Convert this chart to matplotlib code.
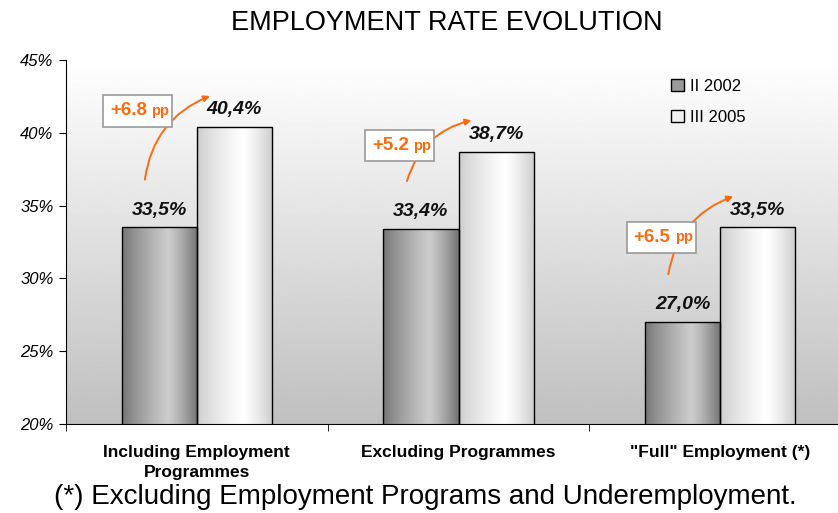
import numpy as np
import matplotlib
matplotlib.use("Agg")
import matplotlib.pyplot as plt
from matplotlib.patches import Patch, Rectangle

plt.rcParams["font.family"] = ["Liberation Sans", "DejaVu Sans"]

categories = ["Including Employment\nProgrammes", "Excluding Programmes", "\"Full\" Employment (*)"]
series_names = ["II 2002", "III 2005"]
rate_2002 = [33.5, 33.4, 27.0]
rate_2005 = [40.4, 38.7, 33.5]
gain_labels = ["+6.8", "+5.2", "+6.5"]
yticks = [20, 25, 30, 35, 40, 45]

ORANGE = "#ff6a0f"
W = 0.287

fig = plt.figure(figsize=(8.38, 5.13), dpi=100, facecolor="white")
ax = fig.add_axes([66 / 838, 89 / 513, 785 / 838, 364 / 513])
ax.set_xlim(-0.5, 2.5)
ax.set_ylim(20, 45)

# plot-area gradient: white at top to grey at bottom
bg = np.linspace(0.75, 1.0, 256).reshape(-1, 1)
ax.imshow(bg, extent=(-0.5, 2.5, 20, 45), origin="lower", cmap="gray",
          vmin=0, vmax=1, aspect="auto", zorder=0)


def shade(edge, peak, n=200):
    # horizontal cylinder-like shading, brightest a bit right of centre
    t = np.linspace(0, 1, n)
    p = 0.6
    v = np.where(t < p, edge + (peak - edge) * (t / p) ** 0.8,
                 peak - (peak - edge) * ((t - p) / (1 - p)) ** 1.3)
    return v.reshape(1, -1)


x = np.arange(len(categories))
bars_a = ax.bar(x - W / 2, rate_2002, W, bottom=0, facecolor="none",
                edgecolor="black", linewidth=1, zorder=3)
bars_b = ax.bar(x + W / 2, rate_2005, W, bottom=0, facecolor="none",
                edgecolor="black", linewidth=1, zorder=3)

for bars, edge, peak in ((bars_a, 0.45, 0.80), (bars_b, 0.80, 1.0)):
    for b in bars:
        x0, w, h = b.get_x(), b.get_width(), b.get_height()
        im = ax.imshow(shade(edge, peak), extent=(x0, x0 + w, 20, h),
                       cmap="gray", vmin=0, vmax=1, aspect="auto", zorder=2)
        im.set_clip_path(b)

for bars in (bars_a, bars_b):
    for b in bars:
        ax.text(b.get_x() + b.get_width() / 2, b.get_height() + 0.6,
                ("%.1f" % b.get_height()).replace(".", ",") + "%",
                ha="center", va="bottom", fontsize=14, fontweight="bold",
                fontstyle="italic", color="#111111", zorder=5)

# orange gain arrows and boxes
box_dy = [1.1, 0.4, -0.7]
for i, (a, b, lab) in enumerate(zip(rate_2002, rate_2005, gain_labels)):
    ax.annotate("", xy=(i + 0.06, b + 2.2), xytext=(i - 0.2, a + 3.1),
                arrowprops=dict(arrowstyle="-|>", color=ORANGE, lw=1.4,
                                mutation_scale=9,
                                connectionstyle="arc3,rad=-0.3"), zorder=6)
    bx, by = i - 0.225, b + box_dy[i]
    ax.add_patch(Rectangle((bx - 0.132, by - 1.07), 0.264, 2.14,
                           facecolor="white", edgecolor="#999999",
                           linewidth=1.2, zorder=7))
    t = ax.text(bx + 0.035, by, lab, ha="right", va="center", fontsize=13.5,
                fontweight="bold", color=ORANGE, zorder=8)
    ax.annotate("pp", xy=(1, 0.1), xycoords=t, xytext=(3, 0),
                textcoords="offset points", ha="left", va="bottom",
                fontsize=10.5, fontweight="bold", color=ORANGE, zorder=8)

ax.set_yticks(yticks)
ax.set_yticklabels(["%d%%" % v for v in yticks], fontstyle="italic", fontsize=12)
ax.set_xticks(x)
ax.set_xticklabels(categories, fontweight="bold", fontsize=12.5, linespacing=1.4)
ax.set_xticks(np.arange(-0.5, 2.6, 1), minor=True)
ax.tick_params(axis="x", which="major", length=0, pad=15)
ax.tick_params(axis="x", which="minor", length=5, direction="out")
ax.tick_params(axis="y", length=5, direction="out", pad=4)
for s in ("top", "right"):
    ax.spines[s].set_visible(False)

handles = [Patch(facecolor="#9a9a9a", edgecolor="black"),
           Patch(facecolor="#f2f2f2", edgecolor="black")]
fig.legend(handles, series_names, loc="upper left",
           bbox_to_anchor=(656 / 838, 1 - 64 / 513), frameon=False,
           fontsize=12, handlelength=0.75, handleheight=0.75,
           handletextpad=0.4, labelspacing=0.95)

fig.text(447 / 838, 1 - 23 / 513, "EMPLOYMENT RATE EVOLUTION",
         ha="center", va="center", fontsize=19.5)
fig.text(425 / 838, 1 - 497 / 513,
         "(*) Excluding Employment Programs and Underemployment.",
         ha="center", va="center", fontsize=20)

fig.savefig("out.png", dpi=100, facecolor="white")
